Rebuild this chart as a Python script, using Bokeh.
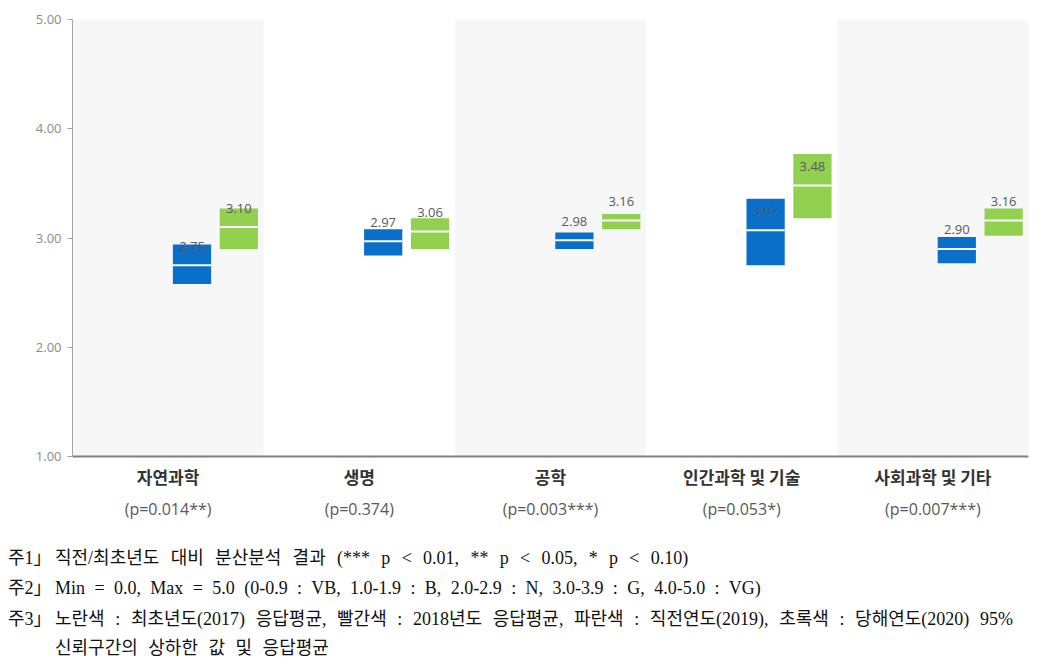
from bokeh.plotting import figure
from bokeh.models import (ColumnDataSource, FixedTicker, NumeralTickFormatter, Range1d,
                          LinearAxis, Div)
from bokeh.layouts import column
from bokeh.embed import file_html
from bokeh.resources import INLINE
from bokeh.core.properties import value

categories = ["자연과학", "생명", "공학", "인간과학 및 기술", "사회과학 및 기타"]
p_labels = ["(p=0.014**)", "(p=0.374)", "(p=0.003***)", "(p=0.053*)", "(p=0.007***)"]

blue_mean = [2.75, 2.97, 2.98, 3.07, 2.90]
blue_low = [2.58, 2.84, 2.90, 2.75, 2.77]
blue_high = [2.94, 3.08, 3.05, 3.36, 3.01]

green_mean = [3.10, 3.06, 3.16, 3.48, 3.16]
green_low = [2.90, 2.90, 3.08, 3.18, 3.02]
green_high = [3.27, 3.18, 3.22, 3.77, 3.27]

y_ticks = [1, 2, 3, 4, 5]

notes = [
    ("주1」", "직전/최초년도 대비 분산분석 결과 (*** p < 0.01, ** p < 0.05, * p < 0.10)"),
    ("주2」", "Min = 0.0, Max = 5.0 (0-0.9 : VB, 1.0-1.9 : B, 2.0-2.9 : N, 3.0-3.9 : G, 4.0-5.0 : VG)"),
    ("주3」", "노란색 : 최초년도(2017) 응답평균, 빨간색 : 2018년도 응답평균, 파란색 : 직전연도(2019), 초록색 : 당해연도(2020) 95%"),
    ("", "신뢰구간의 상하한 값 및 응답평균"),
]

W = 1064
fig = figure(width=W, height=522, output_backend="svg", toolbar_location=None,
             x_range=Range1d(0, 5), y_range=Range1d(1, 5),
             min_border_left=72, min_border_right=36, min_border_top=19, min_border_bottom=40)
fig.outline_line_color = None
fig.grid.visible = False

n = len(categories)
idx = list(range(n))
centers = [i + 0.5 for i in idx]

band_src = ColumnDataSource(dict(left=[i for i in idx if i % 2 == 0],
                                 right=[i + 1 for i in idx if i % 2 == 0]))
fig.quad(left="left", right="right", bottom=1, top=5, source=band_src,
         fill_color="#f7f7f7", line_color=None)

bw = 0.2
def series(offset, low, high, mean, color):
    xs = [c + offset for c in centers]
    src = ColumnDataSource(dict(x=xs, low=low, high=high, mean=mean,
                                x0=[x - bw / 2 for x in xs], x1=[x + bw / 2 for x in xs],
                                lab=["%.2f" % m for m in mean]))
    fig.vbar(x="x", width=bw, bottom="low", top="high", source=src,
             fill_color=color, line_color=None)
    fig.segment(x0="x0", x1="x1", y0="mean", y1="mean", source=src,
                line_color="white", line_width=2)
    fig.text(x="x", y="mean", text="lab", source=src, y_offset=-19,
             text_align="center", text_baseline="middle",
             text_font=value("Open Sans"), text_font_size="13px", text_color="#595959")

series(0.125, blue_low, blue_high, blue_mean, "#0a6fc9")
series(0.37, green_low, green_high, green_mean, "#92d050")

ya = fig.yaxis[0]
ya.ticker = FixedTicker(ticks=y_ticks)
ya.formatter = NumeralTickFormatter(format="0.00")
ya.axis_line_color = "#a6a6a6"
ya.major_tick_line_color = "#a6a6a6"
ya.major_tick_in = 0
ya.major_tick_out = 5
ya.minor_tick_line_color = None
ya.major_label_text_color = "#8c8c8c"
ya.major_label_text_font = "Open Sans"
ya.major_label_text_font_size = "13px"
ya.major_label_standoff = 6

xa = fig.xaxis[0]
xa.ticker = FixedTicker(ticks=centers)
xa.major_label_overrides = {c: categories[i] for i, c in enumerate(centers)}
xa.axis_line_color = "#808080"
xa.axis_line_width = 2
xa.major_tick_line_color = None
xa.minor_tick_line_color = None
xa.major_label_text_font = "Noto Sans CJK KR"
xa.major_label_text_font_style = "bold"
xa.major_label_text_font_size = "17px"
xa.major_label_text_color = "#333333"
xa.major_label_standoff = 1

xa2 = LinearAxis(ticker=FixedTicker(ticks=centers),
                 major_label_overrides={c: p_labels[i] for i, c in enumerate(centers)})
xa2.axis_line_color = None
xa2.major_tick_line_color = None
xa2.minor_tick_line_color = None
xa2.major_label_text_font = "Open Sans"
xa2.major_label_text_font_size = "16px"
xa2.major_label_text_color = "#595959"
xa2.major_label_standoff = 0
fig.add_layout(xa2, "below")

font = "'Liberation Serif', 'Noto Sans CJK KR', serif"
spacing = ["6.8px", "4.9px", "6.1px", "6px"]
heights = ["30px", "31px", "30px", "28px"]
rows = []
for (head, body), ws, h in zip(notes, spacing, heights):
    rows.append(
        '<div style="display:flex;height:%s;line-height:%s;white-space:nowrap;">'
        '<span style="width:47px;flex:none;">%s</span>'
        '<span style="word-spacing:%s;">%s</span></div>' % (h, h, head, ws, body))
div = Div(text="".join(rows), width=W, height=150, margin=(0, 0, 0, 0),
          styles={"font-family": font, "font-size": "18px", "color": "#111111",
                  "padding-left": "8px", "padding-top": "21px"})

p = column(fig, div, spacing=0)
open("out.html", "w").write(file_html(p, INLINE))
